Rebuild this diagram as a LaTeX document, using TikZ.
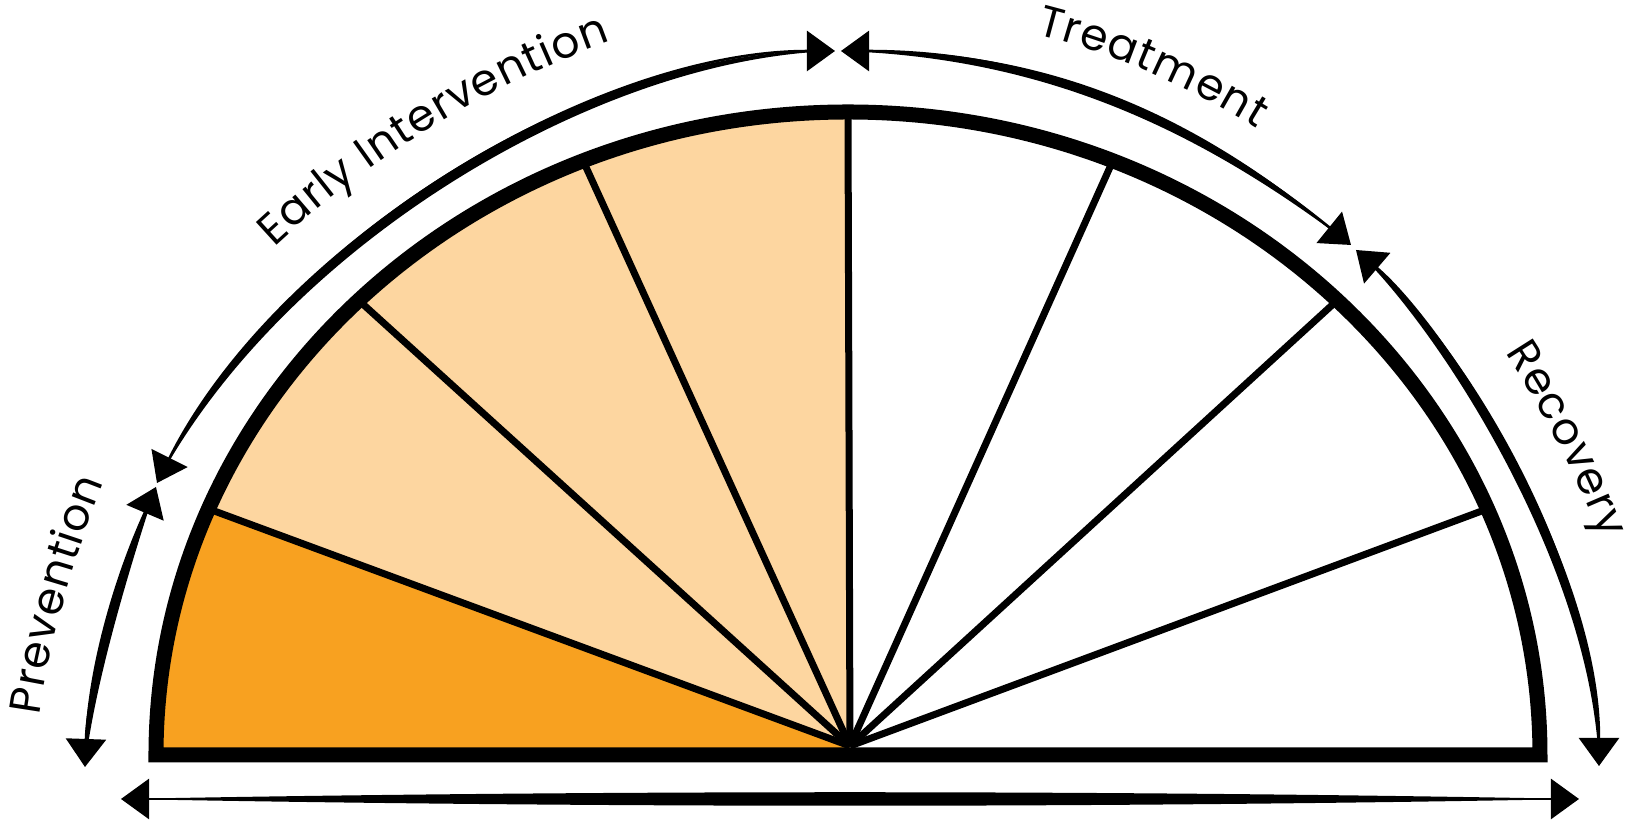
\documentclass[tikz,border=0pt]{standalone}
\usepackage{fontspec}
\newfontfamily\poppins{Poppins}
\newcommand\stagefont{\poppins\fontsize{12.5pt}{15pt}\selectfont}
\usetikzlibrary{arrows.meta,calc,decorations.text}
\definecolor{prevorange}{RGB}{248,161,32}
\definecolor{earlypeach}{RGB}{253,214,160}

\begin{document}
\begin{tikzpicture}[x=0.01cm, y=0.01cm,
    spoke/.style={line width=0.07cm},
    rim/.style={line width=0.15cm},
    shaft/.style={line width=0.025cm, >={Triangle[length=0.28cm,width=0.4cm]}},
    stage text/.style={decorate, decoration={text along path, text align=center}}]
  \useasboundingbox (-848,-67) rectangle (784,755);
  \coordinate (mid) at (0,0);
  \coordinate (hub) at (2,9);
  % sectors of the half dial
  \fill[prevorange] (hub) -- (157.5:692 and 643) arc[start angle=157.5, end angle=180, x radius=692, y radius=643] -- (mid) -- cycle;
  \fill[earlypeach] (hub) -- (90:692 and 643) arc[start angle=90, end angle=157.5, x radius=692, y radius=643] -- cycle;
  \foreach \k in {1,...,7}
    \draw[spoke] (hub) -- (22.5*\k:692 and 643);
  \draw[rim] (-692,0) arc[start angle=180, end angle=0, x radius=692, y radius=643] -- cycle;

  % ends and bends of the stage arrows
  \coordinate (prev-s) at (-763,-12);
  \coordinate (prev-a) at (-760,75);
  \coordinate (prev-b) at (-723,195);
  \coordinate (prev-e) at (-692,268);
  \coordinate (early-s) at (-691,272);
  \coordinate (early-a) at (-570,513);
  \coordinate (early-b) at (-253,704);
  \coordinate (early-e) at (-13,704);
  \coordinate (treat-s) at (-7,704);
  \coordinate (treat-a) at (193,704);
  \coordinate (treat-b) at (348,636);
  \coordinate (treat-e) at (503,510);
  \coordinate (recov-s) at (508,505);
  \coordinate (recov-a) at (599,427);
  \coordinate (recov-b) at (751,189);
  \coordinate (recov-e) at (751,-11);
  \coordinate (base-s) at (-727,-44);
  \coordinate (base-e) at (731,-44);

  % tapered arrows
  \foreach \s in {prev,early,treat,recov} {
    \fill (\s-s) .. controls ($(mid)!1.009!(\s-a)$) and ($(mid)!1.009!(\s-b)$) .. (\s-e)
      .. controls ($(mid)!0.991!(\s-b)$) and ($(mid)!0.991!(\s-a)$) .. (\s-s);
    \draw[shaft, <->] (\s-s) .. controls (\s-a) and (\s-b) .. (\s-e);
  }
  \fill (base-s) .. controls ($(base-s)!0.33!(base-e)+(0,9)$) and ($(base-s)!0.67!(base-e)+(0,9)$) .. (base-e)
    .. controls ($(base-s)!0.67!(base-e)-(0,9)$) and ($(base-s)!0.33!(base-e)-(0,9)$) .. (base-s);
  \draw[shaft, <->] (base-s) -- (base-e);

  % stage names
  \path[stage text, decoration={text={|\stagefont|Prevention}, raise=0.5cm, text align={left indent=0.3cm}}]
    (prev-s) .. controls (prev-a) and (prev-b) .. (prev-e);
  \path[stage text, decoration={text={|\stagefont|Early Intervention}, raise=0.52cm, text align={left indent=0.4cm}}]
    (early-s) .. controls (early-a) and (early-b) .. (early-e);
  \path[stage text, decoration={text={|\stagefont|Treatment}, raise=0.4cm, text align={left indent=0.45cm}}]
    (treat-s) .. controls (treat-a) and (treat-b) .. (treat-e);
  \path[stage text, decoration={text={|\stagefont|Recovery}, raise=0.5cm, text align={right indent=0.45cm}}]
    (recov-s) .. controls (recov-a) and (recov-b) .. (recov-e);
\end{tikzpicture}
\end{document}
